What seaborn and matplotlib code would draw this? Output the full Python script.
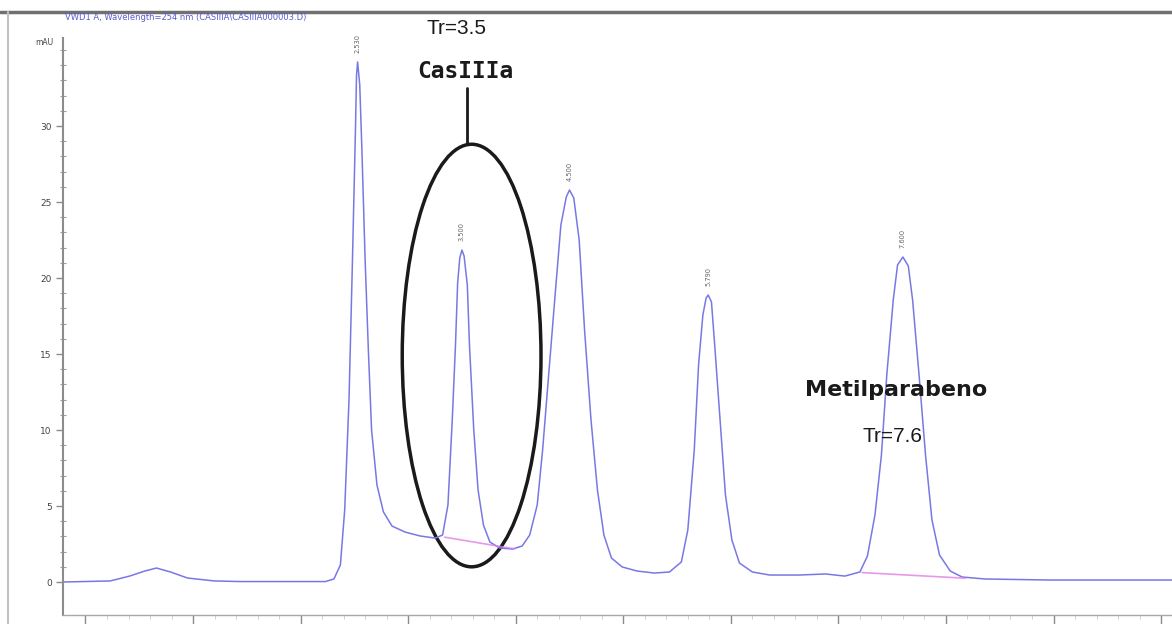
import numpy as np
import pandas as pd
import seaborn as sns
import matplotlib.pyplot as plt
from matplotlib.patches import Ellipse
from matplotlib.lines import Line2D
from matplotlib.transforms import offset_copy

# Detector trace (retention time in min, absorbance in mAU)
time_min = [-0.21, 0.23, 0.41, 0.55, 0.66, 0.79, 0.95, 1.20, 1.44, 2.23,
            2.31, 2.37, 2.41, 2.45, 2.48, 2.51, 2.52, 2.53, 2.55, 2.57,
            2.60, 2.63, 2.66, 2.71, 2.77, 2.85, 2.97, 3.11, 3.25,
            3.32, 3.37, 3.41, 3.44, 3.46, 3.48, 3.50, 3.52, 3.55, 3.57,
            3.61, 3.65, 3.70, 3.76, 3.85, 3.97,
            4.06, 4.13, 4.20, 4.25, 4.31, 4.37, 4.42, 4.47, 4.50, 4.54,
            4.59, 4.64, 4.70, 4.76, 4.82, 4.89, 4.99, 5.13, 5.29, 5.43,
            5.54, 5.60, 5.66, 5.70, 5.74, 5.77, 5.79, 5.82, 5.85, 5.90,
            5.95, 6.01, 6.08, 6.20, 6.36, 6.64, 6.88, 7.06,
            7.20, 7.27, 7.34, 7.40, 7.45, 7.51, 7.55, 7.60, 7.65, 7.69,
            7.75, 7.81, 7.87, 7.94, 8.04, 8.15, 8.36, 8.97, 10.18]
signal_mau = [0.00, 0.07, 0.39, 0.72, 0.92, 0.66, 0.26, 0.07, 0.03, 0.03,
              0.20, 1.12, 4.74, 11.97, 20.53, 29.74, 33.36, 34.21, 32.70, 28.42,
              21.18, 15.26, 10.00, 6.38, 4.61, 3.68, 3.29, 3.03, 2.89,
              3.09, 5.07, 10.66, 15.59, 19.67, 21.32, 21.84, 21.45, 19.54, 15.59,
              10.00, 6.05, 3.75, 2.63, 2.24, 2.17,
              2.37, 3.09, 5.07, 8.68, 13.95, 19.21, 23.49, 25.33, 25.79, 25.26,
              22.50, 16.58, 10.66, 6.05, 3.09, 1.58, 0.99, 0.72, 0.59, 0.66,
              1.32, 3.42, 8.68, 14.28, 17.57, 18.68, 18.88, 18.42, 15.59, 10.66,
              5.72, 2.76, 1.25, 0.66, 0.46, 0.46, 0.53, 0.39,
              0.66, 1.71, 4.41, 8.36, 13.62, 18.55, 20.86, 21.38, 20.79, 18.55,
              13.62, 8.36, 4.08, 1.78, 0.72, 0.33, 0.20, 0.13, 0.13]

# Integrated peaks: apex retention time and height
peak_rt = [2.53, 3.50, 4.50, 5.79, 7.60]
peak_height = [34.21, 21.84, 25.79, 18.88, 21.38]

# Integration baselines (start/end time and level)
base_t0 = [3.34, 7.22]
base_t1 = [3.99, 8.18]
base_y0 = [2.95, 0.62]
base_y1 = [2.18, 0.25]

y_ticks = [0, 5, 10, 15, 20, 25, 30]
x_ticks = list(range(0, 11))

trace_color = "#7878e4"
ink = "#1a1a1a"
df = pd.DataFrame({"time": time_min, "signal": signal_mau})

sns.set_theme(style="white")
plt.rcParams["font.family"] = ["DejaVu Sans"]

W, H = 1172, 624
fig = plt.figure(figsize=(W / 100, H / 100), dpi=100)
fig.patch.set_facecolor("white")
ax = fig.add_axes([63 / W, 9 / H, 1117 / W, 577 / H])
ax.set_facecolor("white")

sns.lineplot(data=df, x="time", y="signal", ax=ax, color=trace_color,
             lw=1.1, estimator=None)

# integration baselines
for t0, t1, y0, y1 in zip(base_t0, base_t1, base_y0, base_y1):
    ax.plot([t0, t1], [y0, y1], color="#e27ee6", lw=1.2, alpha=0.8)

# retention time labels above each apex
for rt, h in zip(peak_rt, peak_height):
    ax.text(rt, h + 0.6, f"{rt:.3f}", rotation=90, ha="center", va="bottom",
            fontsize=4.8, color="#666666")

ax.set_xlim(-0.209, 10.176)
ax.set_ylim(-2.17, 35.79)
ax.set_xlabel("")
ax.set_ylabel("")
ax.set_yticks(y_ticks)
ax.set_yticks(np.arange(0, 36, 1), minor=True)
ax.set_xticks(x_ticks)
ax.set_xticks(np.arange(0, 10.2, 0.2), minor=True)
ax.tick_params(axis="y", which="major", direction="out", length=5, width=1,
               color="#8a8a8a", labelsize=6.5, labelcolor="#444444", pad=3, left=True)
ax.tick_params(axis="y", which="minor", direction="inout", length=4, width=0.8,
               color="#a0a0a0", left=True)
ax.tick_params(axis="x", which="major", direction="out", length=9, width=1,
               color="#8a8a8a", bottom=True, labelbottom=False)
ax.tick_params(axis="x", which="minor", direction="out", length=3, width=0.6,
               color="#c8c8c8", bottom=True)
for s in ["top", "right"]:
    ax.spines[s].set_visible(False)
ax.spines["left"].set_color("#8c8c8c")
ax.spines["left"].set_linewidth(1.5)
ax.spines["bottom"].set_color("#a8a8a8")
ax.spines["bottom"].set_linewidth(1.0)

# unit label at top of the y axis
unit_tr = offset_copy(ax.get_yaxis_transform(), fig=fig, x=-10, y=0, units="dots")
ax.text(0, 35.5, "mAU", transform=unit_tr, ha="right", va="center",
        fontsize=5.5, color="#444444")

narrow = ["Liberation Sans", "DejaVu Sans"]

# ellipse around the CasIIIa peak
cas_rt = peak_rt[1]
ell = Ellipse((cas_rt + 0.09, 14.9), width=1.29, height=27.8, fill=False,
              edgecolor=ink, lw=2.5)
ax.add_patch(ell)
ax.plot([cas_rt + 0.05, cas_rt + 0.05], [28.8, 32.5], color=ink, lw=2)
ax.text(cas_rt + 0.03, 33.6, "CasIIIa", ha="center", va="center",
        fontsize=16.5, fontweight="bold", color=ink, family=["DejaVu Sans Mono"])
ax.text(cas_rt - 0.05, 36.4, "Tr=3.5", ha="center", va="center",
        fontsize=15, color=ink, family=narrow, clip_on=False)

# Metilparabeno annotation
met_rt = peak_rt[4]
ax.text(met_rt - 0.06, 12.6, "Metilparabeno", ha="center", va="center",
        fontsize=16, fontweight="bold", color=ink)
ax.text(met_rt - 0.1, 9.6, "Tr=7.6", ha="center", va="center",
        fontsize=15, color=ink, family=narrow)

# header and window frame
fig.text(65 / W, 1 - 18 / H, "VWD1 A, Wavelength=254 nm (CASIIIA\\CASIIIA000003.D)",
         fontsize=6, color="#5a5ad6", va="center", ha="left")
fig.add_artist(Line2D([0, 1], [1 - 12 / H, 1 - 12 / H], color="#707070", lw=2.5,
                      transform=fig.transFigure))
fig.add_artist(Line2D([8 / W, 8 / W], [0, 1 - 12 / H], color="#c0c0c0", lw=1.5,
                      transform=fig.transFigure))

fig.savefig("out.png", dpi=100)
